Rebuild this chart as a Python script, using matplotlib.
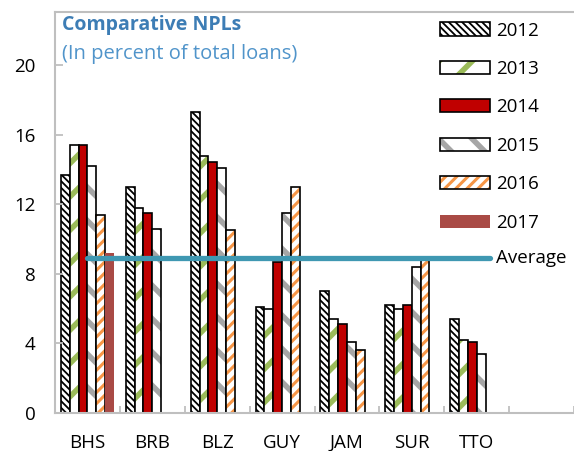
import matplotlib
matplotlib.use('Agg')
import matplotlib.pyplot as plt
import numpy as np
from matplotlib.legend_handler import HandlerTuple
from matplotlib.patches import Rectangle

plt.rcParams['font.family'] = ['Open Sans', 'DejaVu Sans']

countries = ['BHS', 'BRB', 'BLZ', 'GUY', 'JAM', 'SUR', 'TTO', '']
years = ['2012', '2013', '2014', '2015', '2016', '2017']

# NPL ratios (percent of total loans), nan = not reported
npl_2012 = [13.7, 13.0, 17.3, 6.1, 7.0, 6.2, 5.4, np.nan]
npl_2013 = [15.4, 11.8, 14.8, 6.0, 5.4, 6.0, 4.2, np.nan]
npl_2014 = [15.4, 11.5, 14.4, 8.7, 5.1, 6.2, 4.1, np.nan]
npl_2015 = [14.2, 10.6, 14.1, 11.5, 4.1, 8.4, 3.4, np.nan]
npl_2016 = [11.4, np.nan, 10.5, 13.0, 3.6, 8.9, np.nan, np.nan]
npl_2017 = [9.2, np.nan, np.nan, np.nan, np.nan, np.nan, np.nan, np.nan]
average = 8.9

series = [npl_2012, npl_2013, npl_2014, npl_2015, npl_2016, npl_2017]
# (facecolor, hatch, hatch colour, hatch width, outline)
styles = [
    ('white', '\\\\\\\\\\', 'black', 1.3, True),
    ('white', '/', '#9BBB59', 4.0, True),
    ('#C00000', None, None, 0, True),
    ('white', '\\', '#A6A6A6', 4.0, True),
    ('white', '///', '#F79646', 2.2, True),
    ('#A94A45', None, None, 0, False),
]


def hatch_width(artist, lw):
    # set the hatch line width on the patch, whichever way this matplotlib reads it
    if hasattr(artist, 'set_hatch_linewidth'):
        artist.set_hatch_linewidth(lw)
    elif hasattr(artist, '_hatch_linewidth'):
        artist._hatch_linewidth = lw
    orig = artist.draw
    def draw(renderer):
        with plt.rc_context({'hatch.linewidth': lw}):
            orig(renderer)
    artist.draw = draw


fig = plt.figure(figsize=(5.74, 4.51), dpi=100)
ax = fig.add_axes([55/574, 1-413/451, 1-55/574, 401/451])

x = np.arange(len(countries))
w = 0.136
handles = []
for i, (vals, st) in enumerate(zip(series, styles)):
    fc, hatch, hc, hw, outline = st
    pos = x + (i - 2.5) * w
    vals = np.array(vals)
    if hatch:
        with plt.rc_context({'hatch.linewidth': hw}):
            b1 = ax.bar(pos, vals, w, color=fc, edgecolor=hc, hatch=hatch, linewidth=0)
            h1 = Rectangle((0, 0), 1, 1, facecolor=fc, edgecolor=hc, hatch=hatch, linewidth=0)
        for p in b1:
            hatch_width(p, hw)
        hatch_width(h1, hw)
    else:
        ax.bar(pos, vals, w, color=fc, linewidth=0)
        h1 = Rectangle((0, 0), 1, 1, facecolor=fc, linewidth=0)
    if outline:
        ax.bar(pos, vals, w, facecolor='none', edgecolor='black', linewidth=1.2)
        h2 = Rectangle((0, 0), 1, 1, facecolor='none', edgecolor='black', linewidth=1.2)
        handles.append((h1, h2))
    else:
        handles.append((h1,))

# average line across reporting countries
n = 7
ax.plot([x[0], x[n-1] + 0.2], [average, average], color='#3F98B2', lw=3.8,
        solid_capstyle='round', zorder=5)
ax.text(x[n-1] + 0.3, average, 'Average', fontsize=13.5, va='center', ha='left')

ax.set_xlim(-0.5, len(countries) - 0.5)
ax.set_ylim(0, 23.05)
ax.set_yticks(np.arange(0, 21, 4))
ax.set_xticks(x)
ax.set_xticklabels(countries)
ax.set_xticks(np.arange(-0.5, len(countries), 1), minor=True)
ax.tick_params(axis='x', which='major', length=0, pad=15, labelsize=13.5)
ax.tick_params(axis='x', which='minor', direction='in', length=5, color='#BFBFBF', width=1.3)
ax.tick_params(axis='y', direction='in', length=6, color='#BFBFBF', width=1.3, pad=14, labelsize=13.5)

for s in ['left', 'bottom', 'top']:
    ax.spines[s].set_color('#BFBFBF')
    ax.spines[s].set_linewidth(1.5)
ax.spines['right'].set_visible(False)

ax.text(62/574, 1-25/451, 'Comparative NPLs', transform=fig.transFigure, fontsize=14,
        fontweight='bold', color='#3D7DB5', va='center', ha='left')
ax.text(62/574, 1-54/451, '(In percent of total loans)', transform=fig.transFigure, fontsize=14.5,
        color='#5094CA', va='center', ha='left')

leg = ax.legend(handles, years, handler_map={tuple: HandlerTuple(ndivide=1, pad=0)},
                loc='upper left', bbox_to_anchor=(440/574, 1-21.5/451), bbox_transform=fig.transFigure,
                frameon=False, fontsize=13.5, handlelength=2.65, handleheight=0.7,
                labelspacing=1.09, handletextpad=0.35, borderpad=0, borderaxespad=0)
for r in leg.findobj(match=Rectangle):
    h = r.get_hatch()
    for fc, hatch, hc, hw, outline in styles:
        if hatch and h == hatch:
            hatch_width(r, hw)

fig.savefig('out.png', dpi=100)
